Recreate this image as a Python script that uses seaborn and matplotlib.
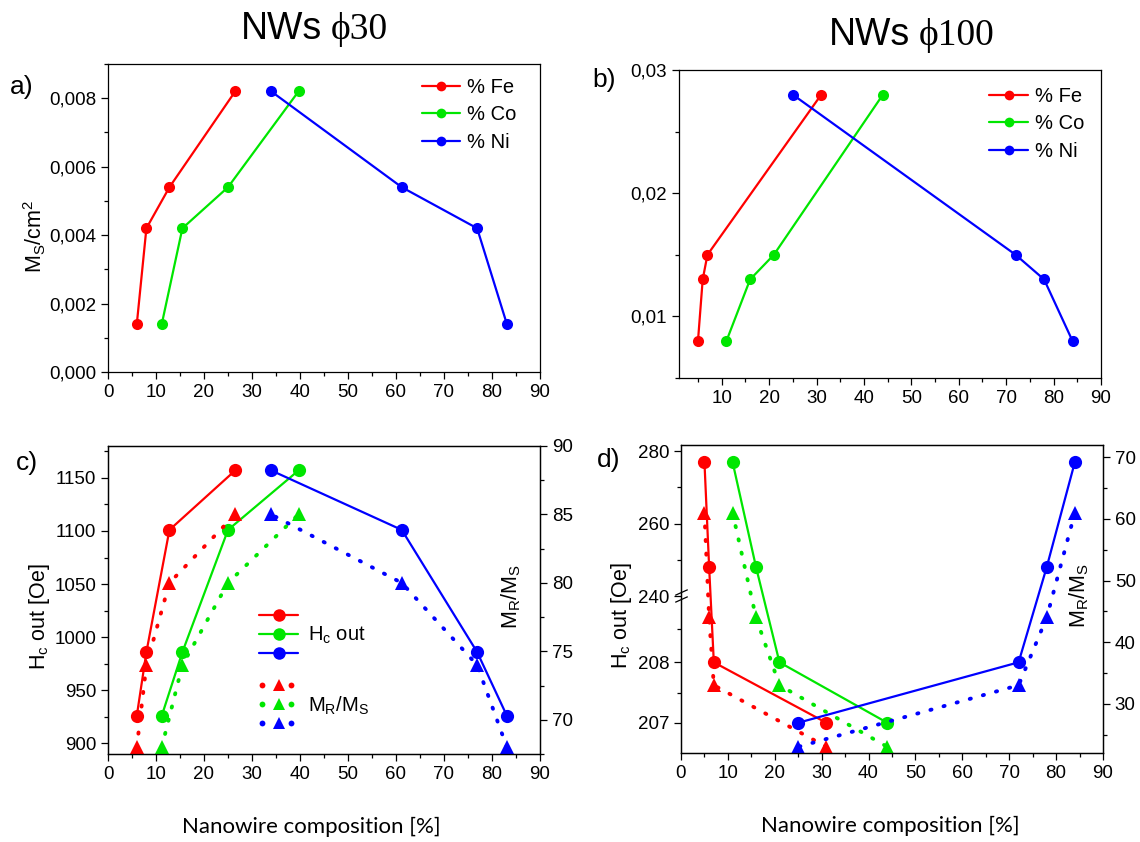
import numpy as np
import pandas as pd
import matplotlib
matplotlib.use("Agg")
import matplotlib.pyplot as plt
import seaborn as sns
from matplotlib.ticker import MultipleLocator, FuncFormatter, FixedLocator
from matplotlib.lines import Line2D
from matplotlib.legend_handler import HandlerBase

# ---- NWs phi30: four samples, composition of each element in % ----
fe30 = [6.0, 8.0, 12.8, 26.5]
co30 = [11.2, 15.5, 25.0, 39.7]
ni30 = [83.1, 76.9, 61.2, 34.0]
ms30 = [0.0014, 0.0042, 0.0054, 0.0082]   # Ms / cm^2
hc30 = [926, 986, 1101, 1157]             # Hc out [Oe]
mr30 = [68, 74, 80, 85]                   # Mr/Ms

# ---- NWs phi100 ----
fe100 = [5, 6, 7, 31]
co100 = [11, 16, 21, 44]
ni100 = [84, 78, 72, 25]
ms100 = [0.008, 0.013, 0.015, 0.028]
hc100 = [277, 248, 208, 207]
mr100 = [61, 44, 33, 23]

elements = ["% Fe", "% Co", "% Ni"]
colors = ["#FF0000", "#00E600", "#0000FF"]
palette = dict(zip(elements, colors))


def long_table(fe, co, ni, ms, hc, mr):
    n = len(ms)
    return pd.DataFrame({
        "element": np.repeat(elements, n),
        "comp": list(fe) + list(co) + list(ni),
        "ms": list(ms) * 3,
        "hc": list(hc) * 3,
        "mr": list(mr) * 3,
    })


df30 = long_table(fe30, co30, ni30, ms30, hc30, mr30)
df100 = long_table(fe100, co100, ni100, ms100, hc100, mr100)

sns.set_style("ticks")
plt.rcParams.update({
    "font.family": ["Liberation Sans", "DejaVu Sans"],
    "mathtext.fontset": "custom",
    "mathtext.rm": "Liberation Sans",
    "mathtext.it": "Liberation Sans:italic",
    "mathtext.bf": "Liberation Sans:bold",
    "axes.edgecolor": "black",
    "axes.linewidth": 0.9,
    "axes.labelcolor": "black",
    "text.color": "black",
    "xtick.color": "black",
    "ytick.color": "black",
    "xtick.major.size": 5,
    "ytick.major.size": 5,
    "xtick.minor.size": 3,
    "ytick.minor.size": 3,
    "xtick.major.width": 0.9,
    "ytick.major.width": 0.9,
    "xtick.minor.width": 0.9,
    "ytick.minor.width": 0.9,
    "xtick.labelsize": 13.5,
    "ytick.labelsize": 13.5,
    "axes.labelsize": 15.5,
})

W, H = 1140, 842
fig = plt.figure(figsize=(W / 100, H / 100), dpi=100)


def add_ax(left, right, top, bottom):
    return fig.add_axes([left / W, 1 - bottom / H, (right - left) / W, (bottom - top) / H])


ax_a = add_ax(108, 540, 64, 372)
ax_b = add_ax(679, 1101, 70, 378)
ax_c = add_ax(108, 540, 446, 754)
ax_d = add_ax(681, 1103, 445, 753)

solid_kw = dict(sort=False, estimator=None, linewidth=1.6, marker="o",
                markeredgewidth=0, legend=False)
dot_style = (0, (0.3, 3.2))
dot_kw = dict(sort=False, estimator=None, linewidth=2.8, marker="^",
              markersize=9.5, markeredgewidth=0, linestyle=dot_style,
              dash_capstyle="round", legend=False)


def comma(decimals):
    return FuncFormatter(lambda v, p: f"{v:.{decimals}f}".replace(".", ","))


# ---------------- a) Ms, phi30 ----------------
sns.lineplot(data=df30, x="comp", y="ms", hue="element", hue_order=elements,
             palette=palette, markersize=8, ax=ax_a, **solid_kw)
ax_a.set_xlim(0, 90)
ax_a.set_ylim(0, 0.009)
ax_a.xaxis.set_major_locator(MultipleLocator(10))
ax_a.xaxis.set_minor_locator(MultipleLocator(5))
ax_a.yaxis.set_major_locator(MultipleLocator(0.002))
ax_a.yaxis.set_minor_locator(MultipleLocator(0.001))
ax_a.yaxis.set_major_formatter(comma(3))
ax_a.set_xlabel("")
ax_a.set_ylabel(r"M$_\mathrm{S}$/cm$^\mathrm{2}$")
ax_a.yaxis.set_label_coords(-0.14, 0.44)

# ---------------- b) Ms, phi100 ----------------
sns.lineplot(data=df100, x="comp", y="ms", hue="element", hue_order=elements,
             palette=palette, markersize=8, ax=ax_b, **solid_kw)
ax_b.set_xlim(1, 90)
ax_b.set_ylim(0.005, 0.03)
ax_b.xaxis.set_major_locator(MultipleLocator(10))
ax_b.xaxis.set_minor_locator(MultipleLocator(5))
ax_b.yaxis.set_major_locator(MultipleLocator(0.01))
ax_b.yaxis.set_minor_locator(MultipleLocator(0.005))
ax_b.yaxis.set_major_formatter(comma(2))
ax_b.set_xlabel("")
ax_b.set_ylabel("")

for ax, anchor in ((ax_a, (0.945, 0.955)), (ax_b, (0.96, 0.945))):
    handles = [Line2D([], [], color=c, lw=1.6, marker="o", ms=7, mew=0) for c in colors]
    ax.legend(handles, elements, loc="upper right", bbox_to_anchor=anchor,
              frameon=False, fontsize=14.5, handlelength=1.9, handletextpad=0.35,
              labelspacing=0.42, borderaxespad=0, borderpad=0)

# ---------------- c) Hc and Mr/Ms, phi30 ----------------
ax_c2 = ax_c.twinx()
sns.lineplot(data=df30, x="comp", y="hc", hue="element", hue_order=elements,
             palette=palette, markersize=9.5, ax=ax_c, **solid_kw)
sns.lineplot(data=df30, x="comp", y="mr", hue="element", hue_order=elements,
             palette=palette, ax=ax_c2, **dot_kw)
ax_c.set_xlim(0, 90)
ax_c.set_ylim(890, 1180)
ax_c2.set_ylim(67.5, 90)
ax_c.xaxis.set_major_locator(MultipleLocator(10))
ax_c.xaxis.set_minor_locator(MultipleLocator(5))
ax_c.yaxis.set_major_locator(MultipleLocator(50))
ax_c.yaxis.set_minor_locator(MultipleLocator(25))
ax_c2.yaxis.set_major_locator(MultipleLocator(5))
ax_c2.yaxis.set_minor_locator(MultipleLocator(2.5))

# ---------------- d) Hc and Mr/Ms, phi100 (broken left axis) ----------------
brk_y = [100, 207, 208, 240, 280, 400]
brk_f = [-107.0, 0.0, 1.0, 2.096, 4.492, 4.492 + 120 * 0.0599]


def fwd(v):
    return np.interp(v, brk_y, brk_f)


def inv(v):
    return np.interp(v, brk_f, brk_y)


ax_d.set_yscale("function", functions=(fwd, inv))
ax_d2 = ax_d.twinx()
sns.lineplot(data=df100, x="comp", y="hc", hue="element", hue_order=elements,
             palette=palette, markersize=9.5, ax=ax_d, **solid_kw)
sns.lineplot(data=df100, x="comp", y="mr", hue="element", hue_order=elements,
             palette=palette, ax=ax_d2, **dot_kw)
ax_d.set_xlim(0, 90)
ax_d.set_ylim(206.5, 281.7)
ax_d2.set_ylim(22, 72)
ax_d.xaxis.set_major_locator(MultipleLocator(10))
ax_d.xaxis.set_minor_locator(MultipleLocator(5))
ax_d.yaxis.set_major_locator(FixedLocator([207, 208, 240, 260, 280]))
ax_d.yaxis.set_minor_locator(FixedLocator([207.5, 224, 250, 270]))
ax_d.yaxis.set_major_formatter(FuncFormatter(lambda v, p: f"{v:.0f}"))
ax_d.yaxis.set_minor_formatter(FuncFormatter(lambda v, p: ""))
ax_d2.yaxis.set_major_locator(MultipleLocator(10))
ax_d2.yaxis.set_minor_locator(MultipleLocator(5))

# axis-break strokes on the left spine
brk_marker = [(-1, -0.45), (1, 0.45)]
ax_d.plot([0, 0], [238.6, 241.2], transform=ax_d.get_yaxis_transform(),
          marker=brk_marker, markersize=9, linestyle="none", color="black",
          mew=0.9, clip_on=False)

# labels shared by c) and d)
for ax, ax2, lx, rx, xl in ((ax_c, ax_c2, -0.13, 0.905, 0.47),
                            (ax_d, ax_d2, -0.112, 0.915, 0.495)):
    ax.set_xlabel("Nanowire composition [%]", fontfamily=["Lato", "DejaVu Sans"],
                  fontsize=16)
    ax.xaxis.set_label_coords(xl, -0.205)
    ax.set_ylabel(r"H$_\mathrm{c}$ out [Oe]")
    ax.yaxis.set_label_coords(lx, 0.447)
    ax2.set_ylabel(r"M$_\mathrm{R}$/M$_\mathrm{S}$")
    ax2.yaxis.set_label_coords(rx, 0.51)


# legend key: three coloured samples stacked above one another, one label
class StackKey:
    def __init__(self, kind):
        self.kind = kind


class StackHandler(HandlerBase):
    def __init__(self, gap, **kw):
        super().__init__(**kw)
        self.gap = gap

    def create_artists(self, legend, orig_handle, xdescent, ydescent,
                       width, height, fontsize, trans):
        arts = []
        yc = (height - ydescent) / 2
        x0, x1 = -xdescent, width - xdescent
        for i, c in enumerate(colors):
            y = yc + (1 - i) * self.gap
            if orig_handle.kind == "solid":
                arts.append(Line2D([x0, x1], [y, y], color=c, lw=1.6))
                arts.append(Line2D([(x0 + x1) / 2], [y], color=c, marker="o",
                                   ms=9, mew=0, ls="none"))
            else:
                w = x1 - x0
                arts.append(Line2D([x0 + 0.08 * w, x0 + 0.8 * w], [y, y], color=c,
                                   marker="o", ms=4.2, mew=0, ls="none"))
                arts.append(Line2D([x0 + 0.5 * w], [y + 0.6], color=c, marker="^",
                                   ms=9, mew=0, ls="none"))
        for a in arts:
            a.set_transform(trans)
        return arts


key_kw = dict(loc="center left", frameon=False, fontsize=14.5, handlelength=1.95,
              handletextpad=0.45, borderaxespad=0, borderpad=0,
              handler_map={StackKey: StackHandler(gap=13.7)})
hc_key, mr_key = StackKey("solid"), StackKey("dotted")
leg1 = ax_c2.legend([hc_key], [r"H$_\mathrm{c}$ out"], bbox_to_anchor=(0.35, 0.385), **key_kw)
ax_c2.add_artist(leg1)
ax_c2.legend([mr_key], [r"M$_\mathrm{R}$/M$_\mathrm{S}$"], bbox_to_anchor=(0.35, 0.157), **key_kw)

# ---------------- titles and panel letters ----------------
for split, base, size_txt in ((322, 39, "30"), (910, 45, "100")):
    fig.text(split / W, 1 - base / H, "NWs", ha="right", va="baseline", fontsize=27)
    fig.text((split + 9) / W, 1 - base / H, "\u03d5" + size_txt, ha="left", va="baseline",
             fontsize=27, family=["Liberation Serif", "DejaVu Serif"])

for letter, x, y in (("a)", 10, 87), ("b)", 592, 80), ("c)", 16, 463), ("d)", 597, 460)):
    fig.text(x / W, 1 - y / H, letter, ha="left", va="center", fontsize=19)

fig.savefig("out.png", dpi=100)
